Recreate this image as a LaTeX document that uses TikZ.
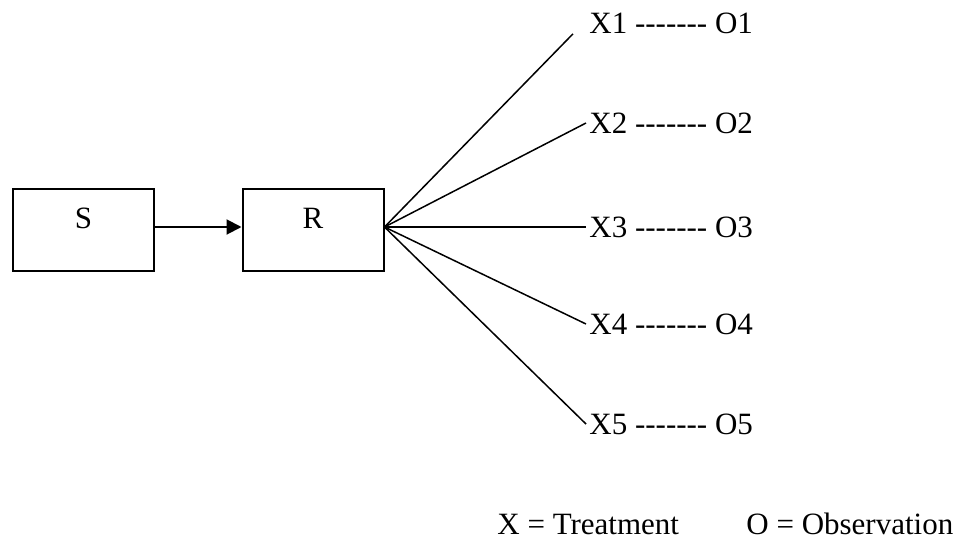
\documentclass[tikz,border=0pt]{standalone}
\usepackage{fontspec}
\setmainfont{Liberation Serif}
\usetikzlibrary{arrows.meta}
\newcommand\dashline{-{}-{}-{}-{}-{}-{}-}
\begin{document}
\begin{tikzpicture}[x=0.5pt,y=-0.5pt,
  every node/.style={font=\fontsize{15.5}{18}\selectfont},
  box/.style={draw,line width=1pt,minimum width=70.5pt,minimum height=41pt,inner sep=0pt},
  row/.style={anchor=west,inner sep=1.5pt},
  fanline/.style={line width=0.75pt}]

\useasboundingbox (0,0) rectangle (959,541);

% sample and random assignment
\node[box] (s) at (83.5,230) {};
\node (st) at (83.5,218) {S};
\node[box] (r) at (313,230) {};
\node (rt) at (313,218) {R};

\draw[line width=1pt,-{Triangle[length=7.5pt,width=7.5pt]}] ([yshift=1.5pt]s.east) -- ([yshift=1.5pt]r.west);
\coordinate (fan) at ([yshift=1.5pt]r.east);

% groups
\node[row] (x1) at (586,23) {X1 \dashline\ O1};
\node[row] (x2) at (586,123) {X2 \dashline\ O2};
\node[row] (x3) at (586,227) {X3 \dashline\ O3};
\node[row] (x4) at (586,324) {X4 \dashline\ O4};
\node[row] (x5) at (586,424) {X5 \dashline\ O5};
\coordinate (x1end) at ([xshift=-6.5pt,yshift=1.5pt]x1.south west);

\draw[fanline] (fan) -- (x1end);
\draw[fanline] (fan) -- (x2.west);
\draw[fanline] (fan) -- (x3.west);
\draw[fanline] (fan) -- (x4.west);
\draw[fanline] (fan) -- (x5.west);

% key
\node[anchor=west,inner sep=0pt] (keyx) at (497,524) {X = Treatment};
\node[anchor=west,inner sep=0pt] (keyo) at (746,524) {O = Observation};

\end{tikzpicture}
\end{document}
